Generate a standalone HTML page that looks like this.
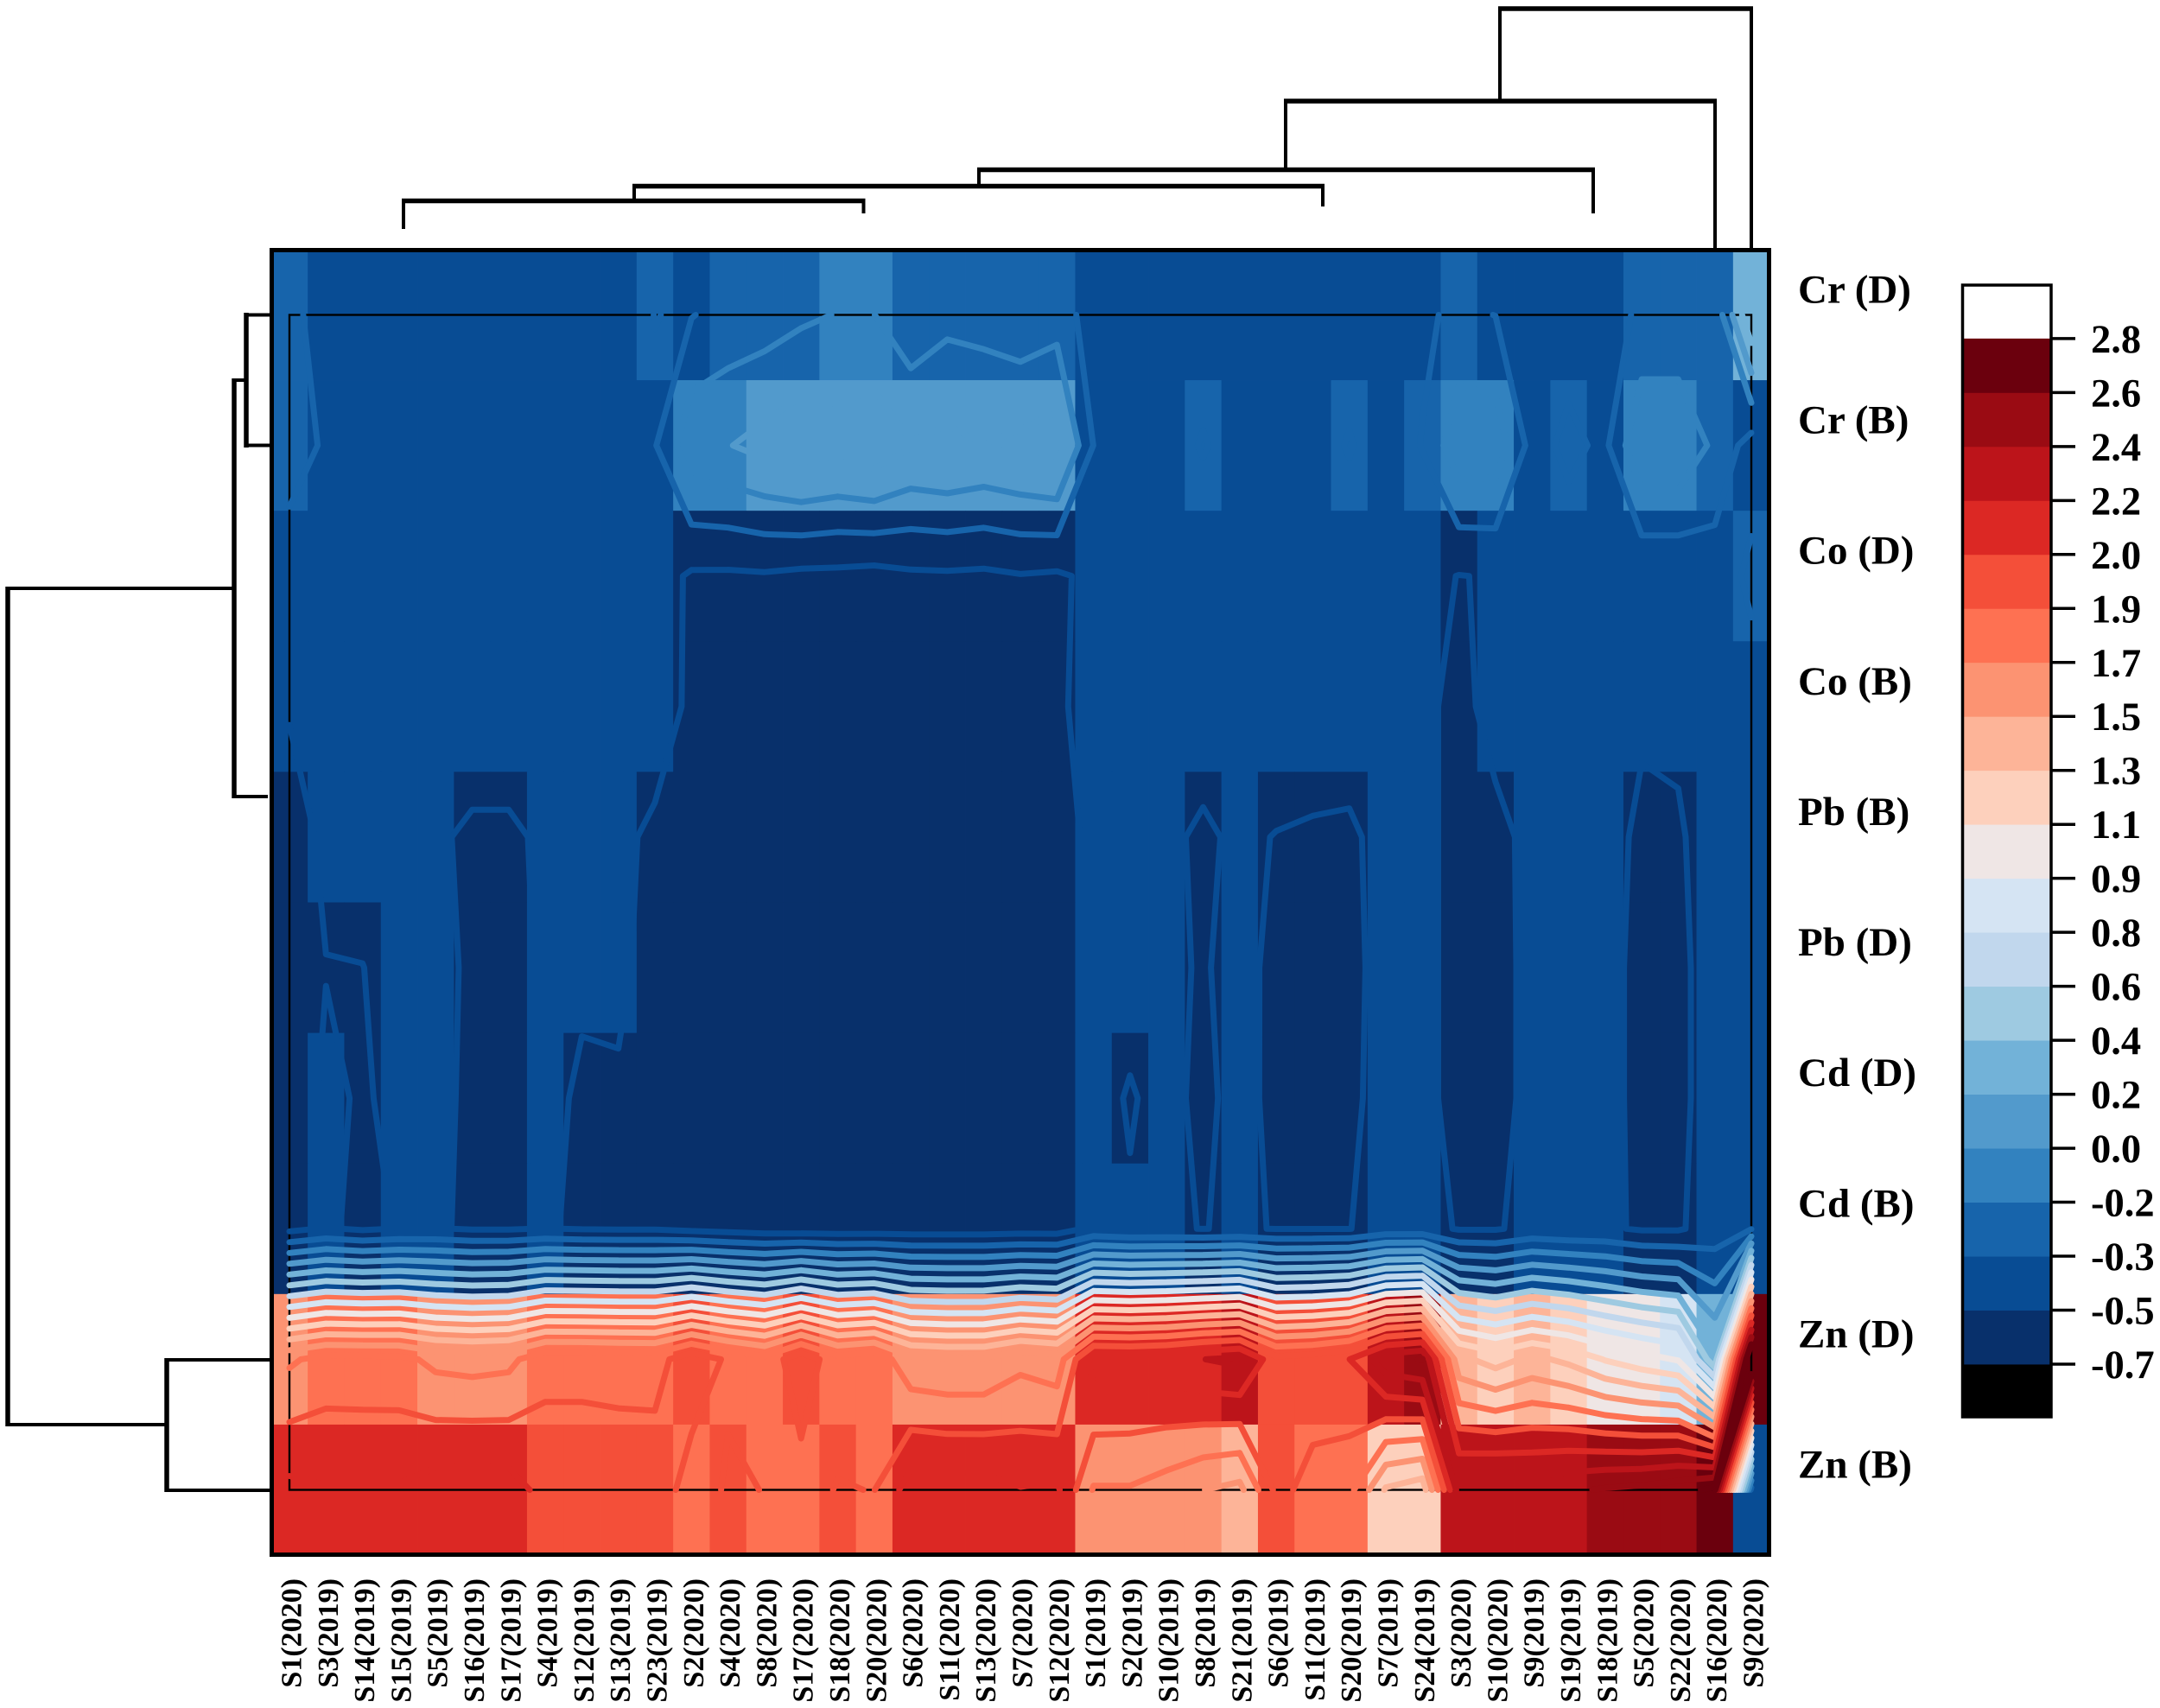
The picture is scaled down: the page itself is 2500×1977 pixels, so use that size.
<!DOCTYPE html>
<html lang="en">
<head>
<meta charset="utf-8">
<title>Heavy metal heatmap with contours</title>
<style>
html,body{margin:0;padding:0;background:#fff;}
svg{display:block;}
text{font-family:"Liberation Serif",serif;font-weight:bold;fill:#000;}
</style>
</head>
<body>
<svg id="chart" xmlns="http://www.w3.org/2000/svg" width="2500" height="1977" viewBox="0 0 2500 1977">
  <rect x="0" y="0" width="2500" height="1977" fill="#fff"/>
  <g id="cells"></g>
  <rect x="335" y="364.5" width="1692" height="1360" fill="none" stroke="#000" stroke-width="2.4"/>
  <g id="contours" fill="none" stroke-width="7" stroke-linecap="round" stroke-linejoin="round"></g>
  <rect x="314.5" y="289.5" width="1733" height="1510" fill="none" stroke="#000" stroke-width="5"/>
  <g fill="none" stroke="#000" stroke-linecap="butt">
    <path d="M467 265V232M999.5 247V232M734 232V215M1531 239V215M1133 215V196M1844 247V196M1488 196V117M1985 288V117M1736 117V10M2027 288V10" stroke-width="4"/>
    <path d="M465 232.5H1001.5M732 215.5H1533M1131 196.5H1846M1486 117H1987M1734 10H2029" stroke-width="5.5"/>
  </g>
  <g fill="none" stroke="#000" stroke-linecap="butt">
    <path d="M285 364.5H312M285 515.5H312M271 440H285M271 922H310M9 681H271M9 1649H193M193 1574H312M193 1725H312" stroke-width="4"/>
    <path d="M285 362V518M271 438V924M9 679V1651M193 1572V1727" stroke-width="5.5"/>
  </g>
  <g id="row-labels"></g>
  <g id="col-labels"></g>
  <g id="legend"></g>
</svg>
<script>
// ---- data: columns (samples), rows (metals), one value array per row ----
const sampleLabels = ["S1(2020)","S3(2019)","S14(2019)","S15(2019)","S5(2019)","S16(2019)","S17(2019)","S4(2019)","S12(2019)","S13(2019)","S23(2019)","S2(2020)","S4(2020)","S8(2020)","S17(2020)","S18(2020)","S20(2020)","S6(2020)","S11(2020)","S13(2020)","S7(2020)","S12(2020)","S1(2019)","S2(2019)","S10(2019)","S8(2019)","S21(2019)","S6(2019)","S11(2019)","S20(2019)","S7(2019)","S24(2019)","S3(2020)","S10(2020)","S9(2019)","S19(2019)","S18(2019)","S5(2020)","S22(2020)","S16(2020)","S9(2020)"];
const metalLabels = ["Cr (D)","Cr (B)","Co (D)","Co (B)","Pb (B)","Pb (D)","Cd (D)","Cd (B)","Zn (D)","Zn (B)"];

const crD = [-.28,-.417,-.42,-.42,-.42,-.42,-.42,-.42,-.42,-.38,-.33,-.34,-.268,-.243,-.183,-.14,-.145,-.283,-.2,-.214,-.275,-.229,-.423,-.42,-.42,-.42,-.42,-.42,-.42,-.42,-.42,-.357,-.30,-.334,-.42,-.42,-.36,-.32,-.32,-.29,.394];
const crB = [-.28,-.347,-.42,-.42,-.42,-.42,-.42,-.42,-.42,-.42,-.345,-.012,.027,.10,.166,.118,.17,.049,.08,.039,.08,.127,-.335,-.40,-.40,-.32,-.40,-.40,-.40,-.32,-.42,-.325,-.016,-.03,-.40,-.29,-.37,.03,.03,-.194,-.41];
const coD = [-.39,-.43,-.43,-.43,-.43,-.43,-.43,-.43,-.43,-.43,-.437,-.54,-.543,-.535,-.556,-.56,-.576,-.545,-.54,-.549,-.525,-.54,-.48,-.44,-.44,-.44,-.44,-.44,-.44,-.44,-.44,-.47,-.52,-.505,-.46,-.44,-.45,-.495,-.495,-.42,-.297];
const coB = [-.502,-.45,-.45,-.45,-.45,-.50,-.50,-.47,-.47,-.47,-.437,-.545,-.545,-.545,-.545,-.545,-.545,-.545,-.545,-.545,-.545,-.545,-.45,-.45,-.45,-.468,-.45,-.45,-.443,-.43,-.44,-.49,-.55,-.476,-.45,-.45,-.45,-.505,-.492,-.44,-.406];
const pbB = [-.60,-.479,-.48,-.47,-.5125,-.52,-.52,-.512,-.48,-.485,-.544,-.56,-.56,-.56,-.56,-.56,-.56,-.56,-.56,-.56,-.56,-.56,-.49,-.49,-.50,-.53,-.50,-.519,-.53,-.54,-.47,-.49,-.55,-.545,-.49,-.48,-.49,-.53,-.53,-.46,-.46];
const pbD = [-.60,-.52,-.517,-.49,-.50,-.525,-.55,-.50,-.50,-.46,-.62,-.62,-.62,-.60,-.60,-.60,-.60,-.60,-.60,-.60,-.60,-.60,-.49,-.496,-.49,-.528,-.471,-.554,-.56,-.56,-.46,-.49,-.55,-.55,-.49,-.49,-.49,-.54,-.54,-.47,-.46];
const cdD = [-.60,-.49,-.53,-.483,-.495,-.533,-.56,-.49,-.53,-.55,-.58,-.62,-.62,-.62,-.62,-.62,-.62,-.62,-.62,-.62,-.62,-.62,-.498,-.52,-.50,-.53,-.495,-.534,-.54,-.54,-.475,-.49,-.55,-.55,-.49,-.49,-.49,-.54,-.54,-.47,-.46];
const cdB = [-.56,-.50,-.54,-.51,-.505,-.53,-.53,-.51,-.525,-.53,-.53,-.56,-.58,-.60,-.608,-.61,-.61,-.61,-.61,-.61,-.60,-.60,-.48,-.51,-.505,-.518,-.504,-.52,-.52,-.52,-.45,-.45,-.53,-.53,-.47,-.49,-.49,-.535,-.535,-.44,-.34];
const znD = [1.665,1.76,1.755,1.75,1.645,1.62,1.645,1.82,1.82,1.806,1.80,2.0,1.85,1.75,2.0,1.76,1.82,1.56,1.53,1.531,1.643,1.59,2.15,2.14,2.169,2.244,2.29,1.934,1.97,2.06,2.366,2.44,1.374,1.248,1.371,1.282,1.13,1.03,.943,.26,3.0];
const znB = [2.11,2.075,2.075,2.08,2.148,2.17,2.148,2.0,2.0,2.0,2.0,1.788,1.90,1.875,1.80,1.89,1.874,2.15,2.14,2.138,2.073,2.094,1.68,1.68,1.612,1.513,1.46,1.92,1.831,1.752,1.306,1.22,2.33,2.378,2.34,2.397,2.45,2.48,2.543,2.66,-.39];

const legendTickLabels = ["2.8","2.6","2.4","2.2","2.0","1.9","1.7","1.5","1.3","1.1","0.9","0.8","0.6","0.4","0.2","0.0","-0.2","-0.3","-0.5","-0.7"];

// ---- scale configuration ----
const bandColors = ["#08306b","#084c94","#1764ab","#3282bf","#529acc","#72b2d8","#9ecae1","#c1d7ed","#d5e4f3","#efe6e5","#fdd0bc","#fdb498","#fc9372","#fe7152","#f44f39","#dc2824","#bc141a","#9a0b13","#6b000d"];
const levelMin = -0.7;
const levelStep = 0.1842;
const saddleTolerance = 0.04;

const matrix = [crD, crB, coD, coB, pbB, pbD, cdD, cdB, znD, znB];
const svgNS = "http://www.w3.org/2000/svg";

// ---- axis functions ----
function xCenter(i){ return 335 + 42.3 * i; }
function yCenter(j){ return 364.5 + 151.11 * j; }
function xEdge(i){ return Math.max(317, Math.min(2045, xCenter(i) - 21.15)); }
function yEdge(j){ return Math.max(292, Math.min(1797, yCenter(j) - 75.555)); }
function levelValue(k){ return levelMin + levelStep * k; }
function bandIndex(v){
  const k = Math.floor((v - levelMin) / levelStep);
  return Math.max(0, Math.min(bandColors.length - 1, k));
}

// ---- heatmap cells ----
const cellsGroup = document.getElementById("cells");
matrix.forEach(function(row, j){
  row.forEach(function(value, i){
    const el = document.createElementNS(svgNS, "rect");
    el.setAttribute("x", xEdge(i));
    el.setAttribute("y", yEdge(j));
    el.setAttribute("width", xEdge(i + 1) - xEdge(i) + 0.4);
    el.setAttribute("height", yEdge(j + 1) - yEdge(j) + 0.4);
    el.setAttribute("fill", bandColors[bandIndex(value)]);
    
    
    cellsGroup.appendChild(el);
  });
});

// ---- contour lines (marching squares on the same matrix) ----
function contourPath(level){
  let d = "";
  const cross = function(a, b){ return (level - a) / (b - a); };
  for (let j = 0; j < matrix.length - 1; j++) {
    for (let i = 0; i < matrix[j].length - 1; i++) {
      const tl = matrix[j][i], tr = matrix[j][i + 1], bl = matrix[j + 1][i], br = matrix[j + 1][i + 1];
      const pts = {};
      if ((tl < level) !== (tr < level)) pts.top = [xCenter(i + cross(tl, tr)), yCenter(j)];
      if ((bl < level) !== (br < level)) pts.bottom = [xCenter(i + cross(bl, br)), yCenter(j + 1)];
      if ((tl < level) !== (bl < level)) pts.left = [xCenter(i), yCenter(j + cross(tl, bl))];
      if ((tr < level) !== (br < level)) pts.right = [xCenter(i + 1), yCenter(j + cross(tr, br))];
      const keys = Object.keys(pts);
      let pairs = [];
      if (keys.length === 2) {
        pairs = [[keys[0], keys[1]]];
      } else if (keys.length === 4) {
        // saddle: join the high diagonal unless one of its corners barely clears the level
        const tlHigh = tl >= level;
        const weakestHigh = tlHigh ? Math.min(tl, br) : Math.min(tr, bl);
        const joinHigh = weakestHigh - level > saddleTolerance;
        if (tlHigh === joinHigh) {
          pairs = [["top", "right"], ["bottom", "left"]];
        } else {
          pairs = [["top", "left"], ["bottom", "right"]];
        }
      }
      pairs.forEach(function(p){
        const a = pts[p[0]], b = pts[p[1]];
        d += "M" + a[0].toFixed(1) + " " + a[1].toFixed(1) + "L" + b[0].toFixed(1) + " " + b[1].toFixed(1);
      });
    }
  }
  return d;
}
const contourGroup = document.getElementById("contours");
bandColors.forEach(function(color, k){
  const d = contourPath(levelValue(k));
  if (!d) return;
  const el = document.createElementNS(svgNS, "path");
  el.setAttribute("d", d);
  el.setAttribute("stroke", color);
  
  
  contourGroup.appendChild(el);
});

// ---- row labels ----
const rowLabelGroup = document.getElementById("row-labels");
metalLabels.forEach(function(label, j){
  const el = document.createElementNS(svgNS, "text");
  el.setAttribute("x", 2081);
  el.setAttribute("y", yCenter(j) - 14);
  el.setAttribute("font-size", "47");
  el.textContent = label;
  
  
  rowLabelGroup.appendChild(el);
});

// ---- column labels ----
const colLabelGroup = document.getElementById("col-labels");
sampleLabels.forEach(function(label, i){
  const el = document.createElementNS(svgNS, "text");
  const bx = xCenter(i) + 13.5;
  el.setAttribute("transform", "translate(" + bx + " 1827) rotate(-90)");
  el.setAttribute("text-anchor", "end");
  el.setAttribute("font-size", "34");
  el.textContent = label;
  
  
  colLabelGroup.appendChild(el);
});

// ---- colour legend ----
const legendGroup = document.getElementById("legend");
function legendY(k){ return 1579 - 62.48 * k; }
function addLegendRect(y, h, fill){
  const el = document.createElementNS(svgNS, "rect");
  el.setAttribute("x", 2271);
  el.setAttribute("y", y);
  el.setAttribute("width", 103);
  el.setAttribute("height", h);
  el.setAttribute("fill", fill);
  
  
  legendGroup.appendChild(el);
}
addLegendRect(329, 64, "#ffffff");
addLegendRect(1579, 62, "#000000");
bandColors.forEach(function(color, k){
  addLegendRect(legendY(k + 1), 62.9, color);
});
const legendFrame = document.createElementNS(svgNS, "rect");
legendFrame.setAttribute("x", 2271.5);
legendFrame.setAttribute("y", 330);
legendFrame.setAttribute("width", 102.5);
legendFrame.setAttribute("height", 1310);
legendFrame.setAttribute("fill", "none");
legendFrame.setAttribute("stroke", "#000");
legendFrame.setAttribute("stroke-width", "3.5");


legendGroup.appendChild(legendFrame);
legendTickLabels.forEach(function(label, idx){
  const y = legendY(legendTickLabels.length - 1 - idx);
  const tick = document.createElementNS(svgNS, "line");
  tick.setAttribute("x1", 2374);
  tick.setAttribute("x2", 2402);
  tick.setAttribute("y1", y);
  tick.setAttribute("y2", y);
  tick.setAttribute("stroke", "#000");
  tick.setAttribute("stroke-width", "3.5");
  
  
  legendGroup.appendChild(tick);
  const t = document.createElementNS(svgNS, "text");
  t.setAttribute("x", 2420);
  t.setAttribute("y", y + 16);
  t.setAttribute("font-size", "46.5");
  t.textContent = label;
  
  
  legendGroup.appendChild(t);
});
</script>
</body>
</html>
